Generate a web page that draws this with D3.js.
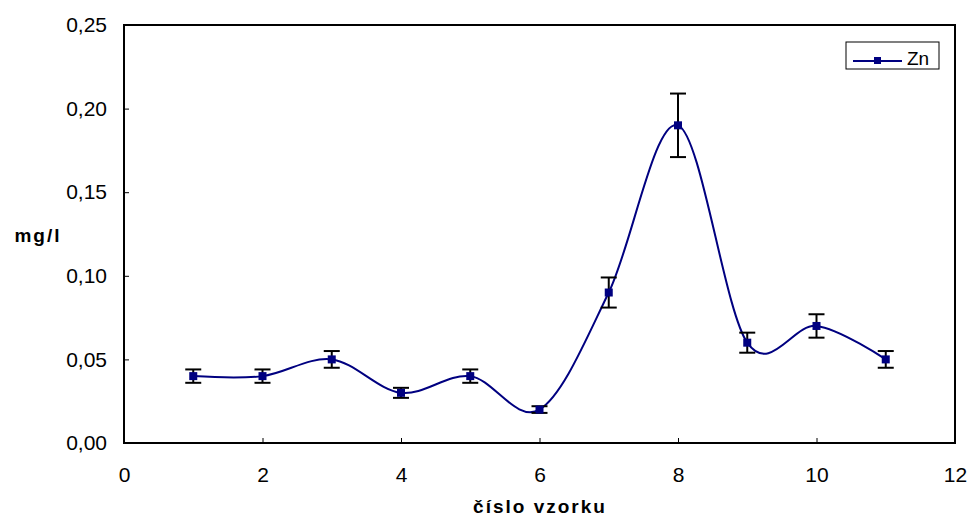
<!DOCTYPE html>
<html>
<head>
<meta charset="utf-8">
<script src="https://cdn.jsdelivr.net/npm/d3@7"></script>
<style>
  html, body { margin: 0; padding: 0; background: #fff; }
  svg { display: block; font-family: "Liberation Sans", Arial, sans-serif; }
</style>
</head>
<body>
<svg id="chart" width="972" height="517"></svg>
<script>
// Zn concentration per sample (mg/l) with error bar half-widths
const samples = [1, 2, 3, 4, 5, 6, 7, 8, 9, 10, 11];
const znValues = [0.04, 0.04, 0.05, 0.03, 0.04, 0.02, 0.09, 0.19, 0.06, 0.07, 0.05];
const znErrors = [0.004, 0.004, 0.005, 0.003, 0.004, 0.002, 0.009, 0.019, 0.006, 0.007, 0.005];
const xTicks = [0, 2, 4, 6, 8, 10, 12];
const yTicks = [0, 0.05, 0.10, 0.15, 0.20, 0.25];
const seriesName = "Zn";

const svg = d3.select("#chart");
const plot = { left: 124, top: 25, right: 955, bottom: 443 };

const x = d3.scaleLinear().domain([0, 12]).range([plot.left, plot.right]);
const y = d3.scaleLinear().domain([0, 0.25]).range([plot.bottom, plot.top]);
const fmt = v => d3.format(".2f")(v).replace(".", ",");

// plot frame
svg.append("rect")
  .attr("x", plot.left).attr("y", plot.top)
  .attr("width", plot.right - plot.left).attr("height", plot.bottom - plot.top)
  .attr("fill", "none").attr("stroke", "#000").attr("stroke-width", 2);

// axes with inward ticks
const xAxis = svg.append("g")
  .attr("transform", `translate(0,${plot.bottom})`)
  .call(d3.axisBottom(x).tickValues(xTicks).tickSizeInner(-5).tickSizeOuter(0).tickPadding(24).tickFormat(d3.format("d")));
const yAxis = svg.append("g")
  .attr("transform", `translate(${plot.left},0)`)
  .call(d3.axisLeft(y).tickValues(yTicks).tickSizeInner(-5).tickSizeOuter(0).tickPadding(17).tickFormat(fmt));
[xAxis, yAxis].forEach(g => {
  g.select(".domain").remove();
  g.selectAll(".tick line").attr("stroke", "#000").attr("stroke-width", 1);
  g.selectAll(".tick text").attr("fill", "#000").attr("font-size", 21)
    .attr("font-family", "'Liberation Sans', Arial, sans-serif");
});
xAxis.selectAll(".tick").filter(d => d === 0 || d === 12).select("line").remove();
yAxis.selectAll(".tick").filter(d => d === 0 || d === 0.25).select("line").remove();

// axis titles
svg.append("text")
  .attr("x", 540).attr("y", 513)
  .attr("text-anchor", "middle")
  .attr("font-size", 19).attr("font-weight", "bold").attr("letter-spacing", 2)
  .text("číslo vzorku");
svg.append("text")
  .attr("x", 38).attr("y", 242)
  .attr("text-anchor", "middle")
  .attr("font-size", 19).attr("font-weight", "bold").attr("letter-spacing", 2)
  .text("mg/l");

const pts = samples.map((s, i) => ({ s, v: znValues[i], e: znErrors[i] }));

// smoothed series line
const line = d3.line()
  .x(d => x(d.s)).y(d => y(d.v))
  .curve(d3.curveCardinal.tension(0));
svg.append("path")
  .datum(pts)
  .attr("d", line)
  .attr("fill", "none").attr("stroke", "#000080").attr("stroke-width", 2);

// error bars
const eb = svg.append("g").attr("stroke", "#000").attr("stroke-width", 2);
pts.forEach(d => {
  const cx = x(d.s);
  eb.append("line").attr("x1", cx).attr("x2", cx).attr("y1", y(d.v + d.e)).attr("y2", y(d.v - d.e));
  eb.append("line").attr("x1", cx - 8).attr("x2", cx + 8).attr("y1", y(d.v + d.e)).attr("y2", y(d.v + d.e));
  eb.append("line").attr("x1", cx - 8).attr("x2", cx + 8).attr("y1", y(d.v - d.e)).attr("y2", y(d.v - d.e));
});

// markers
svg.append("g").selectAll("rect")
  .data(pts).join("rect")
  .attr("x", d => x(d.s) - 4).attr("y", d => y(d.v) - 4)
  .attr("width", 8).attr("height", 8)
  .attr("fill", "#000080");

// legend
const lg = svg.append("g");
lg.append("rect")
  .attr("x", 846).attr("y", 42).attr("width", 93).attr("height", 27)
  .attr("fill", "#fff").attr("stroke", "#000").attr("stroke-width", 1);
lg.append("line")
  .attr("x1", 853).attr("x2", 902).attr("y1", 61).attr("y2", 61)
  .attr("stroke", "#000080").attr("stroke-width", 2);
lg.append("rect")
  .attr("x", 874).attr("y", 57).attr("width", 7).attr("height", 7)
  .attr("fill", "#000080");
lg.append("text")
  .attr("x", 907).attr("y", 65)
  .attr("font-size", 19)
  .text(seriesName);
</script>
</body>
</html>
